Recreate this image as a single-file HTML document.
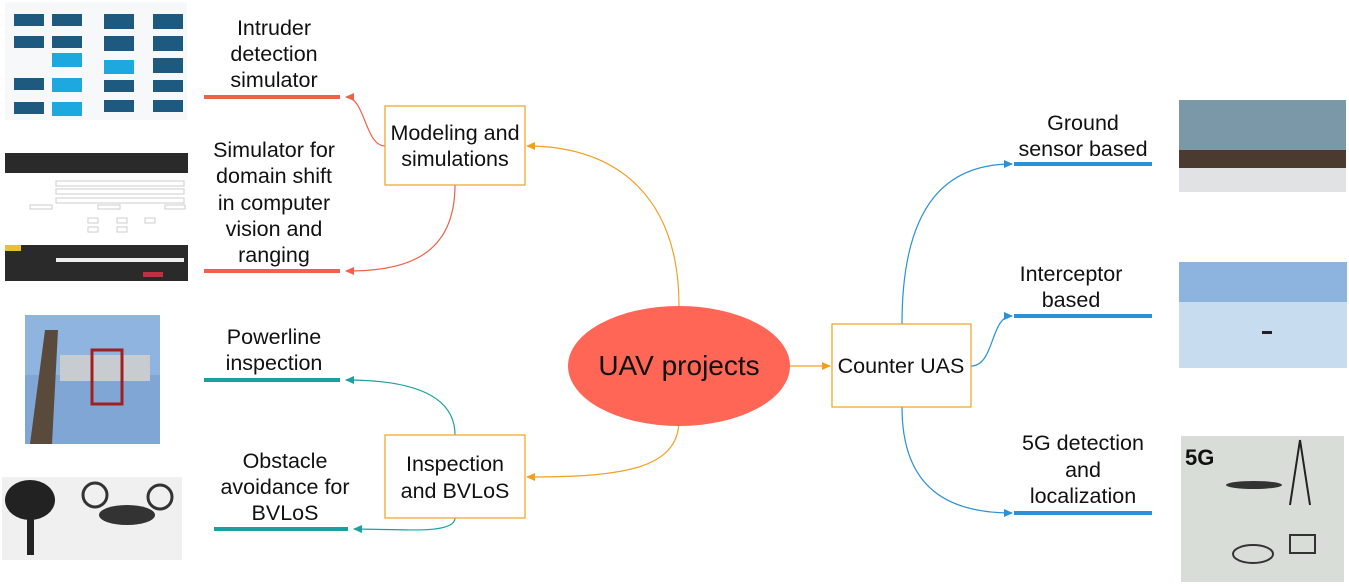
<!DOCTYPE html>
<html><head><meta charset="utf-8"><style>
html,body{margin:0;padding:0;background:#fff;}
svg{display:block;font-family:"Liberation Sans",sans-serif;}
</style></head><body>
<svg width="1349" height="586" viewBox="0 0 1349 586" xmlns="http://www.w3.org/2000/svg">
<defs>
<marker id="ao" markerWidth="10" markerHeight="10" refX="8" refY="5" orient="auto" markerUnits="userSpaceOnUse"><path d="M0,1 L9,5 L0,9 Z" fill="#f0a020"/></marker>
<marker id="ar" markerWidth="10" markerHeight="10" refX="8" refY="5" orient="auto" markerUnits="userSpaceOnUse"><path d="M0,1 L9,5 L0,9 Z" fill="#f0604a"/></marker>
<marker id="at" markerWidth="10" markerHeight="10" refX="8" refY="5" orient="auto" markerUnits="userSpaceOnUse"><path d="M0,1 L9,5 L0,9 Z" fill="#1aa0a0"/></marker>
<marker id="ab" markerWidth="10" markerHeight="10" refX="8" refY="5" orient="auto" markerUnits="userSpaceOnUse"><path d="M0,1 L9,5 L0,9 Z" fill="#2a90d8"/></marker>
</defs>

<!-- images (approximations) -->
<rect x="5" y="2" width="182" height="118" fill="#f6f8fa"/>
<g fill="#1e5a80">
<rect x="14" y="14" width="30" height="12"/><rect x="52" y="14" width="30" height="12"/>
<rect x="14" y="36" width="30" height="12"/><rect x="52" y="36" width="30" height="12"/>
<rect x="14" y="78" width="30" height="12"/><rect x="14" y="102" width="30" height="12"/>
<rect x="104" y="14" width="30" height="15"/><rect x="104" y="36" width="30" height="15"/>
<rect x="104" y="80" width="30" height="12"/><rect x="104" y="100" width="30" height="12"/>
<rect x="153" y="14" width="30" height="15"/><rect x="153" y="36" width="30" height="15"/><rect x="153" y="58" width="30" height="15"/><rect x="153" y="80" width="30" height="12"/><rect x="153" y="100" width="30" height="12"/>
</g>
<g fill="#1ea8e0"><rect x="52" y="53" width="30" height="14"/><rect x="52" y="78" width="30" height="14"/><rect x="52" y="102" width="30" height="14"/><rect x="104" y="60" width="30" height="14"/></g>

<rect x="5" y="153" width="183" height="128" fill="#fff"/>
<rect x="5" y="153" width="183" height="20" fill="#2a2a2a"/>
<g fill="none" stroke="#ccc" stroke-width="1">
<rect x="56" y="181" width="128" height="5"/><rect x="56" y="189" width="128" height="5"/><rect x="56" y="198" width="128" height="5"/>
<rect x="30" y="205" width="22" height="4"/><rect x="98" y="205" width="22" height="4"/><rect x="165" y="205" width="20" height="4"/>
<rect x="88" y="218" width="10" height="5"/><rect x="117" y="218" width="10" height="5"/><rect x="145" y="218" width="10" height="5"/>
<rect x="88" y="227" width="10" height="5"/><rect x="117" y="227" width="10" height="5"/>
</g>
<rect x="5" y="245" width="183" height="36" fill="#2a2a2a"/>
<rect x="5" y="245" width="16" height="6" fill="#e8c030"/>
<rect x="143" y="272" width="20" height="5" fill="#c03040"/>
<rect x="56" y="258" width="128" height="4" fill="#eee"/>

<rect x="25" y="315" width="135" height="129" fill="#7fa6d4"/>
<rect x="25" y="315" width="135" height="60" fill="#8fb4e0"/>
<path d="M30,444 L45,330 L58,330 L52,444 Z" fill="#5a4a3c"/>
<rect x="60" y="355" width="90" height="26" fill="#c8ccd0"/>
<rect x="92" y="350" width="30" height="54" fill="none" stroke="#a02020" stroke-width="3"/>

<rect x="2" y="477" width="180" height="83" fill="#f0f0f0"/>
<ellipse cx="30" cy="500" rx="25" ry="20" fill="#222"/>
<rect x="27" y="505" width="7" height="50" fill="#222"/>
<ellipse cx="127" cy="515" rx="28" ry="10" fill="#333"/>
<circle cx="95" cy="495" r="12" fill="none" stroke="#333" stroke-width="3"/>
<circle cx="160" cy="497" r="12" fill="none" stroke="#333" stroke-width="3"/>

<rect x="1179" y="100" width="167" height="92" fill="#8aa0aa"/>
<rect x="1179" y="100" width="167" height="50" fill="#7a98a8"/>
<rect x="1179" y="150" width="167" height="22" fill="#4a3a30"/>
<rect x="1179" y="168" width="167" height="24" fill="#e0e2e4"/>

<rect x="1179" y="262" width="168" height="106" fill="#c8dcef"/>
<rect x="1179" y="262" width="168" height="40" fill="#8db4de"/>
<rect x="1262" y="331" width="10" height="3" fill="#222"/>

<rect x="1181" y="436" width="163" height="146" fill="#d8ddd8"/>
<text x="1185" y="465" font-size="22" font-weight="bold" fill="#111">5G</text>
<path d="M1300,440 L1290,505 M1300,440 L1310,505" stroke="#222" stroke-width="2"/>
<ellipse cx="1254" cy="485" rx="28" ry="4" fill="#333"/>
<ellipse cx="1253" cy="554" rx="20" ry="9" fill="none" stroke="#333" stroke-width="2"/>
<rect x="1290" y="535" width="25" height="18" fill="none" stroke="#333" stroke-width="2"/>

<!-- connectors -->
<g fill="none" stroke-width="1.2">
<path d="M679,306 C679,200 620,146 527,146" stroke="#f0a020" marker-end="url(#ao)"/>
<path d="M679,420 C679,470 620,477 527,477" stroke="#f0a020" marker-end="url(#ao)"/>
<path d="M790,366 L830,366" stroke="#f0a020" marker-end="url(#ao)"/>
<path d="M385,146 C365,146 365,97 346,97" stroke="#f0604a" marker-end="url(#ar)"/>
<path d="M455,185 C455,260 400,271 346,271" stroke="#f0604a" marker-end="url(#ar)"/>
<path d="M455,435 C455,390 400,380 346,380" stroke="#1aa0a0" marker-end="url(#at)"/>
<path d="M455,518 C455,535 400,529 354,529" stroke="#1aa0a0" marker-end="url(#at)"/>
<path d="M902,324 C902,200 950,164 1012,164" stroke="#2a90d8" marker-end="url(#ab)"/>
<path d="M971,366 C995,366 990,316 1012,316" stroke="#2a90d8" marker-end="url(#ab)"/>
<path d="M902,407 C902,490 950,513 1012,513" stroke="#2a90d8" marker-end="url(#ab)"/>
</g>

<!-- underlines -->
<g stroke-width="4">
<line x1="204" y1="97" x2="340" y2="97" stroke="#f0604a"/>
<line x1="204" y1="271" x2="340" y2="271" stroke="#f0604a"/>
<line x1="204" y1="380" x2="340" y2="380" stroke="#1aa0a0"/>
<line x1="214" y1="529" x2="348" y2="529" stroke="#1aa0a0"/>
<line x1="1014" y1="164" x2="1152" y2="164" stroke="#2a90d8"/>
<line x1="1014" y1="316" x2="1152" y2="316" stroke="#2a90d8"/>
<line x1="1014" y1="513" x2="1152" y2="513" stroke="#2a90d8"/>
</g>

<!-- boxes -->
<rect x="385" y="106" width="140" height="79" fill="#fff" stroke="#f0a020" stroke-width="1.2"/>
<rect x="385" y="435" width="140" height="83" fill="#fff" stroke="#f0a020" stroke-width="1.2"/>
<rect x="832" y="324" width="139" height="83" fill="#fff" stroke="#f0a020" stroke-width="1.2"/>
<ellipse cx="679" cy="366" rx="111" ry="60" fill="#ff6655"/>

<g font-size="21.5" fill="#111" text-anchor="middle">
<text x="455" y="140">Modeling and</text><text x="455" y="166">simulations</text>
<text x="455" y="471">Inspection</text><text x="455" y="498">and BVLoS</text>
<text x="901" y="373">Counter UAS</text>
<text x="679" y="375" font-size="28">UAV projects</text>
<text x="274" y="35">Intruder</text><text x="274" y="61">detection</text><text x="274" y="87">simulator</text>
<text x="274" y="157">Simulator for</text><text x="274" y="183">domain shift</text><text x="274" y="210">in computer</text><text x="274" y="236">vision and</text><text x="274" y="262">ranging</text>
<text x="274" y="344">Powerline</text><text x="274" y="370">inspection</text>
<text x="285" y="468">Obstacle</text><text x="285" y="494">avoidance for</text><text x="285" y="520">BVLoS</text>
<text x="1083" y="130">Ground</text><text x="1083" y="156">sensor based</text>
<text x="1071" y="281">Interceptor</text><text x="1071" y="307">based</text>
<text x="1083" y="450">5G detection</text><text x="1083" y="477">and</text><text x="1083" y="503">localization</text>
</g>
</svg>
</body></html>
